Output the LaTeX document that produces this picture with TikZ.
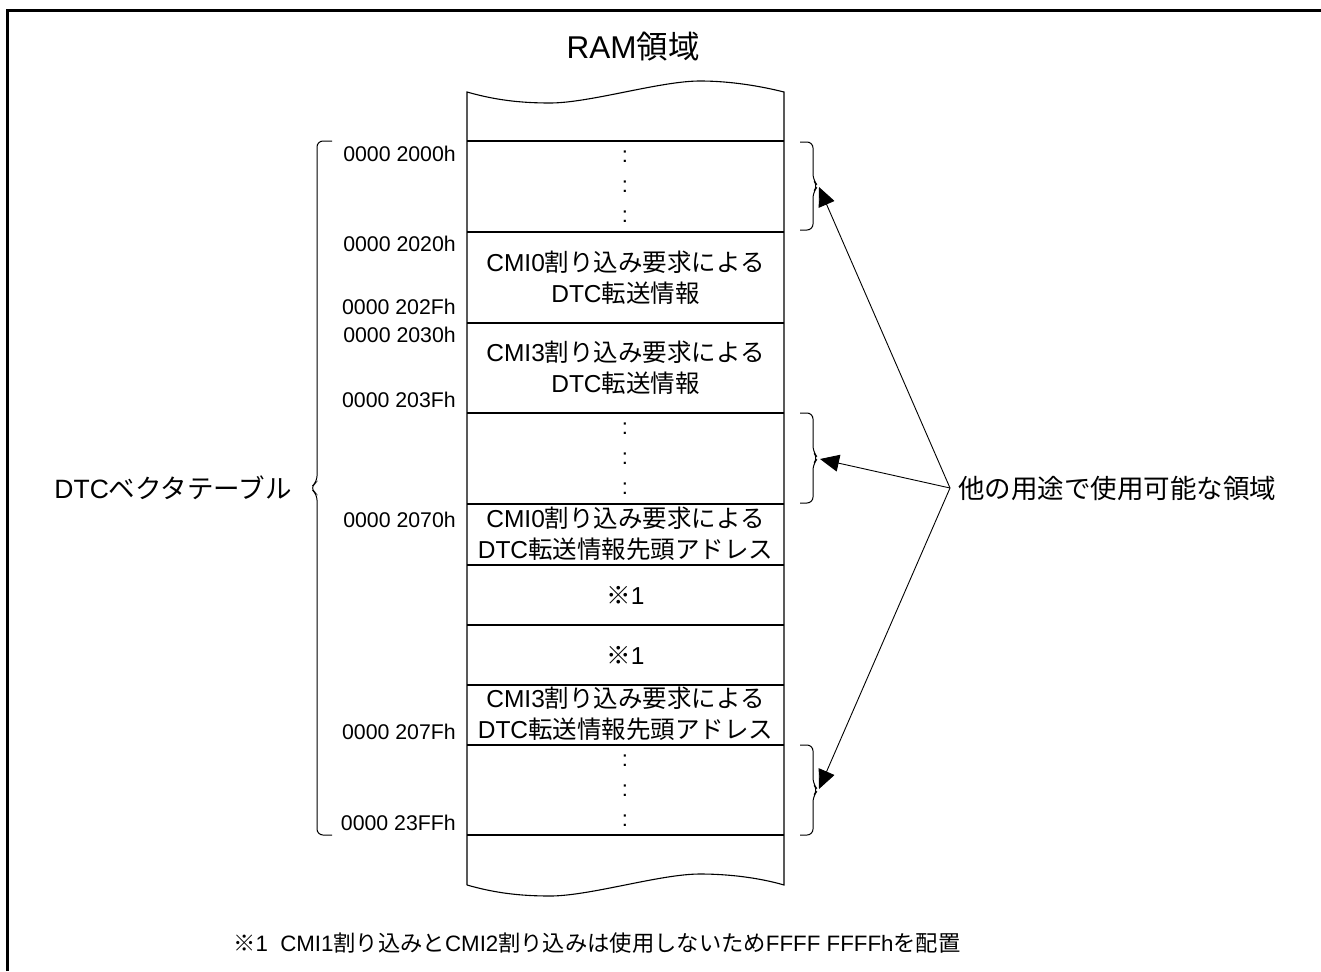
\documentclass[tikz,border=0pt]{standalone}
\usepackage{fontspec}
\setmainfont{Liberation Sans}
\newfontfamily\jp{Noto Sans CJK JP}
\usetikzlibrary{arrows.meta}
\tikzset{
  addr/.style={font=\fontsize{21.3}{25}\selectfont, anchor=east, inner sep=0pt},
  cell/.style={font=\fontsize{24.5}{31}\selectfont, align=center, inner sep=0pt},
  dots/.style={font=\fontsize{22}{26}\selectfont, inner sep=0pt},
  big/.style={font=\fontsize{26.5}{30}\selectfont, inner sep=0pt},
  rowline/.style={line width=1.1pt},
  brace/.style={line width=1pt, rounded corners=6pt},
  arr/.style={line width=0.9pt, -{Triangle[length=19pt,width=17pt]}},
}
\begin{document}
\begin{tikzpicture}[x=1pt,y=-1pt]
\useasboundingbox (0,0) rectangle (1321,971);
% frame
\draw[line width=2.8pt] (7.3,971) -- (7.3,10.7) -- (1321,10.7);
% title
\node[font=\fontsize{31.5}{35}\selectfont, inner sep=0pt] (title) at (633,47) {RAM{\jp 領域}};
% column with wavy ends
\draw[line width=1.1pt] (467,885) -- (467,92)
  .. controls (495,100) and (520,103) .. (550,103)
  .. controls (590,103) and (660,81) .. (700,81)
  .. controls (730,81) and (760,86) .. (784,92) -- (784,885)
  .. controls (760,878) and (730,874) .. (700,874)
  .. controls (660,874) and (590,896) .. (550,896)
  .. controls (520,896) and (495,893) .. (467,885);
% row separators
\foreach \yy in {141,232,323,413,504,565,625,685,745,835}
  \draw[rowline] (467,\yy) -- (784,\yy);
% dots
\foreach \yy/\nm in {157/da1,187/da2,217/da3,429/db1,459/db2,489/db3,761/dc1,791/dc2,821/dc3}
  \node[dots] (\nm) at (625,\yy) {:};
% cell texts
\node[cell] (c1) at (625.5,278) {CMI0{\jp 割り込み要求による}\\DTC{\jp 転送情報}};
\node[cell] (c2) at (625.5,368) {CMI3{\jp 割り込み要求による}\\DTC{\jp 転送情報}};
\node[cell] (c3) at (625.5,534) {CMI0{\jp 割り込み要求による}\\DTC{\jp 転送情報先頭アドレス}};
\node[cell] (c4) at (625.5,595) {{\jp ※}1};
\node[cell] (c5) at (625.5,655) {{\jp ※}1};
\node[cell] (c6) at (625.5,714) {CMI3{\jp 割り込み要求による}\\DTC{\jp 転送情報先頭アドレス}};
% addresses
\node[addr] (a1) at (456,154) {0000 2000h};
\node[addr] (a2) at (456,244) {0000 2020h};
\node[addr] (a3) at (456,307) {0000 202Fh};
\node[addr] (a4) at (456,335) {0000 2030h};
\node[addr] (a5) at (456,400) {0000 203Fh};
\node[addr] (a6) at (456,520) {0000 2070h};
\node[addr] (a7) at (456,732) {0000 207Fh};
\node[addr] (a8) at (456,823) {0000 23FFh};
% left brace
\draw[brace] (332,141) -- (317,141) -- (317,482) -- (310,488) -- (317,494) -- (317,835) -- (332,835);
\node[big, anchor=east] (lbl) at (292,488) {DTC{\jp ベクタテーブル}};
% right braces
\draw[brace] (800,142) -- (813,142) -- (813,180) -- (818,186) -- (813,192) -- (813,230) -- (800,230);
\draw[brace] (800,413) -- (813,413) -- (813,452) -- (818,458) -- (813,464) -- (813,503) -- (800,503);
\draw[brace] (800,745) -- (813,745) -- (813,784) -- (818,790) -- (813,796) -- (813,835) -- (800,835);
\coordinate (t1) at (819,187);
\coordinate (t2) at (820,459);
\coordinate (t3) at (819,789);
\node[big, anchor=west] (rlbl) at (958,488) {{\jp 他の用途で使用可能な領域}};
\coordinate (hub) at (950,488);
\draw[arr] (hub) -- (t1);
\draw[arr] (hub) -- (t2);
\draw[arr] (hub) -- (t3);
% footnote
\node[font=\fontsize{22.3}{26}\selectfont, anchor=west, inner sep=0pt] (fn) at (233,943)
  {{\jp ※}1\ \ CMI1{\jp 割り込みと}CMI2{\jp 割り込みは使用しないため}FFFF FFFFh{\jp を配置}};
\end{tikzpicture}
\end{document}
